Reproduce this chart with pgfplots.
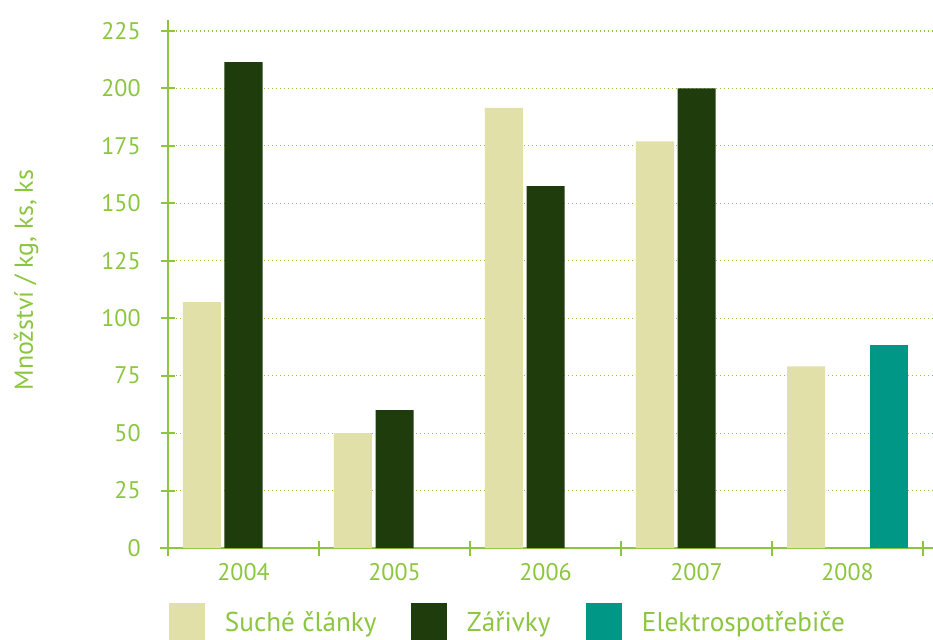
\documentclass[border=0pt]{standalone}
\usepackage{pgfplots}
\pgfplotsset{compat=1.18}
\usepackage{fontspec}
\setmainfont{PT Sans}
\definecolor{tg}{HTML}{8CC63F}
\definecolor{c1}{HTML}{E0E0A8}
\definecolor{c2}{HTML}{1E3C0C}
\definecolor{c3}{HTML}{009787}
\pgfplotsset{
  mybar/.style={ybar, bar width=0.2517, draw=none,
    legend image code/.code={\fill[##1] (0pt,-10pt) rectangle (18pt,10pt);}},
}
\begin{document}
\begin{tikzpicture}
\useasboundingbox (0,0) rectangle (466.5pt,319.5pt);
\begin{axis}[
  at={(84pt,45.5pt)}, anchor=south west,
  scale only axis, width=382.5pt, height=264.25pt,
  xmin=-0.5, xmax=4.566, ymin=0, ymax=230,
  axis x line=bottom, axis y line=left,
  axis line style={-, draw=tg, line width=1pt},
  clip=false,
  /pgf/number format/assume math mode=true,
  xtick={0,1,2,3,4}, xticklabels={2004,2005,2006,2007,2008},
  minor xtick={-0.5,0.5,1.5,2.5,3.5,4.5},
  major x tick style={draw=none},
  minor x tick style={draw=tg, line width=1pt},
  minor tick length=7.5pt,
  ytick={0,25,...,225},
  y tick style={draw=tg, line width=1pt},
  major tick length=7pt,
  tick align=center,
  ymajorgrids,
  major grid style={draw=tg, line width=0.6pt, dash pattern=on 0.6pt off 1.4pt},
  ticklabel style={font=\fontsize{12}{14}\selectfont, text=tg},
  yticklabel style={inner sep=0pt, xshift=-10pt},
  xticklabel style={inner sep=0pt, yshift=-4pt},
  ylabel={Množství / kg, ks, ks},
  ylabel style={font=\fontsize{13}{15}\selectfont, text=tg, at={(axis description cs:-0.1856,0.507)}, anchor=center},
  legend columns=3,
  legend style={at={(axis description cs:0.0013,-0.1039)}, anchor=north west,
    draw=none, fill=none, inner sep=0pt, outer sep=0pt,
    font=\fontsize{13.6}{16}\selectfont, text=tg,
    nodes={inner sep=0pt},
    /tikz/every odd column/.append style={column sep=10pt}},
]
\addplot[mybar, bar shift=-0.275, fill=c1] coordinates {(0,107) (1,50) (2,191.5) (3,177) (4,79)};
\addlegendentry{\makebox[93pt][l]{Suché články}}
\addplot[mybar, bar shift=0, fill=c2] coordinates {(0,211.5) (1,60) (2,157.5) (3,200)};
\addlegendentry{\makebox[59.5pt][l]{Zářivky}}
\addplot[mybar, bar shift=0.275, fill=c3] coordinates {(4,88.3)};
\addlegendentry{Elektrospotřebiče}
\draw[tg, line width=1pt] (axis cs:-0.55,0) -- (axis cs:-0.5,0);
\end{axis}
\end{tikzpicture}
\end{document}
